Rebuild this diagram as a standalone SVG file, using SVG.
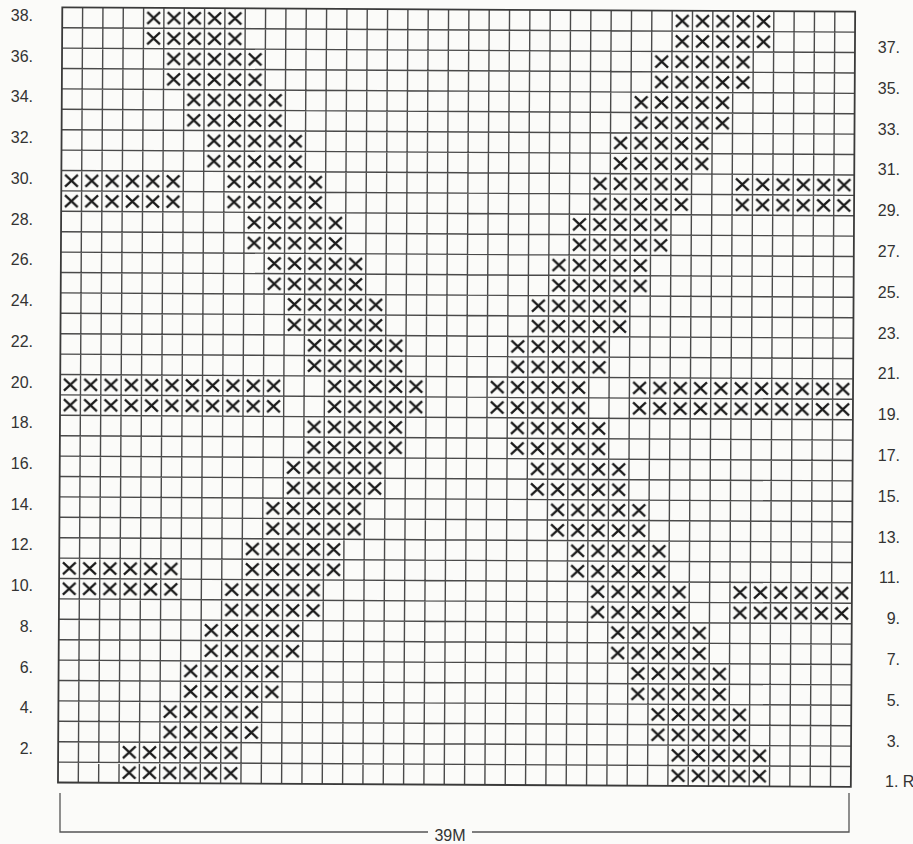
<svg xmlns="http://www.w3.org/2000/svg" width="913" height="844" viewBox="0 0 913 844">
  <defs>
    <pattern id="xs" patternUnits="userSpaceOnUse" width="20.33" height="20.4">
      <path d="M3.8 4.2L16.5 16.2M16.5 4.2L3.8 16.2" stroke="#1a1a1a" stroke-width="2.3" fill="none"/>
    </pattern>
  </defs>
  <style>
    .x { fill: url(#xs); }
    .grid { fill: none; stroke: #4a4a4a; stroke-width: 1.4; }
    .frame { fill: none; stroke: #3a3a3a; stroke-width: 1.8; }
    .lbl { font-family: "Liberation Sans", Arial, sans-serif; font-size: 16px; fill: #333; }
    .ll { text-anchor: end; }
    .rl { text-anchor: end; }
    .br { fill: none; stroke: #555; stroke-width: 1.3; }
  </style>
  <rect width="913" height="844" fill="#fbfbf9"/>

  <g id="chart" transform="translate(62.3 7.3) rotate(0.32)">
    <g id="stitches">
      <rect class="x" x="81.32" y="0" width="101.65" height="40.8"/>
      <rect class="x" x="609.9" y="0" width="101.65" height="40.8"/>
      <rect class="x" x="101.65" y="40.8" width="101.65" height="40.8"/>
      <rect class="x" x="589.57" y="40.8" width="101.65" height="40.8"/>
      <rect class="x" x="121.98" y="81.6" width="101.65" height="40.8"/>
      <rect class="x" x="569.24" y="81.6" width="101.65" height="40.8"/>
      <rect class="x" x="142.31" y="122.4" width="101.65" height="40.8"/>
      <rect class="x" x="548.91" y="122.4" width="101.65" height="40.8"/>
      <rect class="x" x="0" y="163.2" width="121.98" height="40.8"/>
      <rect class="x" x="162.64" y="163.2" width="101.65" height="40.8"/>
      <rect class="x" x="528.58" y="163.2" width="101.65" height="40.8"/>
      <rect class="x" x="670.89" y="163.2" width="121.98" height="40.8"/>
      <rect class="x" x="182.97" y="204" width="101.65" height="40.8"/>
      <rect class="x" x="508.25" y="204" width="101.65" height="40.8"/>
      <rect class="x" x="203.3" y="244.8" width="101.65" height="40.8"/>
      <rect class="x" x="487.92" y="244.8" width="101.65" height="40.8"/>
      <rect class="x" x="223.63" y="285.6" width="101.65" height="40.8"/>
      <rect class="x" x="467.59" y="285.6" width="101.65" height="40.8"/>
      <rect class="x" x="243.96" y="326.4" width="101.65" height="40.8"/>
      <rect class="x" x="447.26" y="326.4" width="101.65" height="40.8"/>
      <rect class="x" x="0" y="367.2" width="223.63" height="40.8"/>
      <rect class="x" x="264.29" y="367.2" width="101.65" height="40.8"/>
      <rect class="x" x="426.93" y="367.2" width="101.65" height="40.8"/>
      <rect class="x" x="569.24" y="367.2" width="223.63" height="40.8"/>
      <rect class="x" x="243.96" y="408" width="101.65" height="40.8"/>
      <rect class="x" x="447.26" y="408" width="101.65" height="40.8"/>
      <rect class="x" x="223.63" y="448.8" width="101.65" height="40.8"/>
      <rect class="x" x="467.59" y="448.8" width="101.65" height="40.8"/>
      <rect class="x" x="203.3" y="489.6" width="101.65" height="40.8"/>
      <rect class="x" x="487.92" y="489.6" width="101.65" height="40.8"/>
      <rect class="x" x="182.97" y="530.4" width="101.65" height="40.8"/>
      <rect class="x" x="508.25" y="530.4" width="101.65" height="40.8"/>
      <rect class="x" x="0" y="550.8" width="121.98" height="40.8"/>
      <rect class="x" x="162.64" y="571.2" width="101.65" height="40.8"/>
      <rect class="x" x="528.58" y="571.2" width="101.65" height="40.8"/>
      <rect class="x" x="670.89" y="571.2" width="121.98" height="40.8"/>
      <rect class="x" x="142.31" y="612" width="101.65" height="40.8"/>
      <rect class="x" x="548.91" y="612" width="101.65" height="40.8"/>
      <rect class="x" x="121.98" y="652.8" width="101.65" height="40.8"/>
      <rect class="x" x="569.24" y="652.8" width="101.65" height="40.8"/>
      <rect class="x" x="101.65" y="693.6" width="101.65" height="40.8"/>
      <rect class="x" x="589.57" y="693.6" width="101.65" height="40.8"/>
      <rect class="x" x="60.99" y="734.4" width="121.98" height="40.8"/>
      <rect class="x" x="609.9" y="734.4" width="101.65" height="40.8"/>
    </g>
    <path class="grid" d="M20.33 0V775.2M40.66 0V775.2M60.99 0V775.2M81.32 0V775.2M101.65 0V775.2M121.98 0V775.2M142.31 0V775.2M162.64 0V775.2M182.97 0V775.2M203.3 0V775.2M223.63 0V775.2M243.96 0V775.2M264.29 0V775.2M284.62 0V775.2M304.95 0V775.2M325.28 0V775.2M345.61 0V775.2M365.94 0V775.2M386.27 0V775.2M406.6 0V775.2M426.93 0V775.2M447.26 0V775.2M467.59 0V775.2M487.92 0V775.2M508.25 0V775.2M528.58 0V775.2M548.91 0V775.2M569.24 0V775.2M589.57 0V775.2M609.9 0V775.2M630.23 0V775.2M650.56 0V775.2M670.89 0V775.2M691.22 0V775.2M711.55 0V775.2M731.88 0V775.2M752.21 0V775.2M772.54 0V775.2M0 20.4H792.87M0 40.8H792.87M0 61.2H792.87M0 81.6H792.87M0 102H792.87M0 122.4H792.87M0 142.8H792.87M0 163.2H792.87M0 183.6H792.87M0 204H792.87M0 224.4H792.87M0 244.8H792.87M0 265.2H792.87M0 285.6H792.87M0 306H792.87M0 326.4H792.87M0 346.8H792.87M0 367.2H792.87M0 387.6H792.87M0 408H792.87M0 428.4H792.87M0 448.8H792.87M0 469.2H792.87M0 489.6H792.87M0 510H792.87M0 530.4H792.87M0 550.8H792.87M0 571.2H792.87M0 591.6H792.87M0 612H792.87M0 632.4H792.87M0 652.8H792.87M0 673.2H792.87M0 693.6H792.87M0 714H792.87M0 734.4H792.87M0 754.8H792.87"/>
    <rect class="frame" x="0" y="0" width="792.87" height="775.2"/>
  </g>

  <g id="row-labels-left" class="lbl ll">
    <text x="33" y="21">38.</text>
    <text x="33" y="61.7">36.</text>
    <text x="33" y="102.4">34.</text>
    <text x="33" y="143.2">32.</text>
    <text x="33" y="183.9">30.</text>
    <text x="33" y="224.6">28.</text>
    <text x="33" y="265.3">26.</text>
    <text x="33" y="306">24.</text>
    <text x="33" y="346.8">22.</text>
    <text x="33" y="387.5">20.</text>
    <text x="33" y="428.2">18.</text>
    <text x="33" y="468.9">16.</text>
    <text x="33" y="509.6">14.</text>
    <text x="33" y="550.4">12.</text>
    <text x="33" y="591.1">10.</text>
    <text x="33" y="631.8">8.</text>
    <text x="33" y="672.5">6.</text>
    <text x="33" y="713.2">4.</text>
    <text x="33" y="754">2.</text>
  </g>

  <g id="row-labels-right" class="lbl rl">
    <text x="900" y="53">37.</text>
    <text x="900" y="93.8">35.</text>
    <text x="900" y="134.6">33.</text>
    <text x="900" y="175.4">31.</text>
    <text x="900" y="216.2">29.</text>
    <text x="900" y="257">27.</text>
    <text x="900" y="297.8">25.</text>
    <text x="900" y="338.6">23.</text>
    <text x="900" y="379.4">21.</text>
    <text x="900" y="420.2">19.</text>
    <text x="900" y="461">17.</text>
    <text x="900" y="501.8">15.</text>
    <text x="900" y="542.6">13.</text>
    <text x="900" y="583.4">11.</text>
    <text x="900" y="624.2">9.</text>
    <text x="900" y="665">7.</text>
    <text x="900" y="705.8">5.</text>
    <text x="900" y="746.6">3.</text>
    <text x="885" y="787.4" style="text-anchor:start">1. R</text>
  </g>

  <g id="width-bracket">
    <path class="br" d="M60 793V832H428M472 832H849V793"/>
    <text class="lbl" x="450" y="841" text-anchor="middle">39M</text>
  </g>
</svg>
